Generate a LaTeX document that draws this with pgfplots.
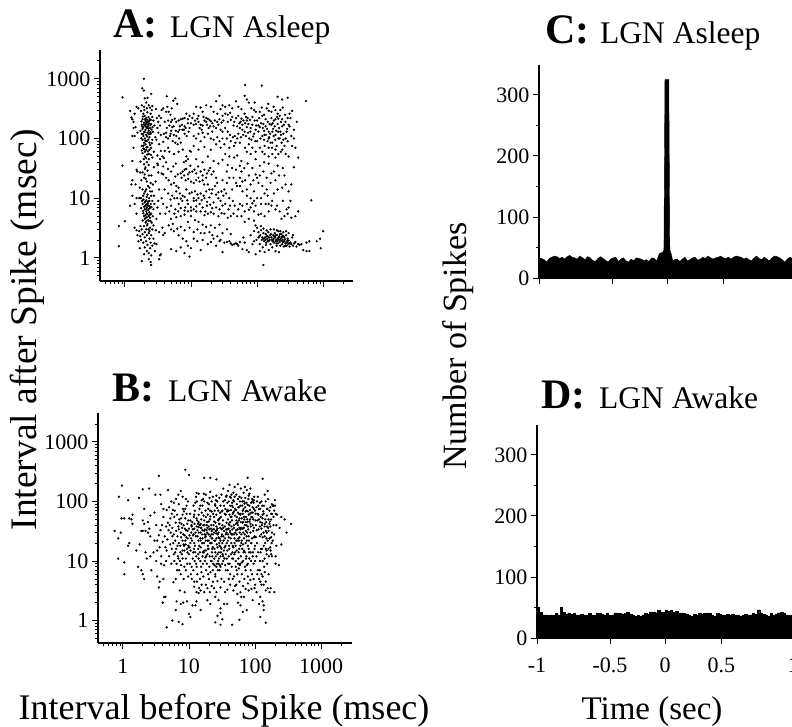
\documentclass[border=0pt]{standalone}
\usepackage{pgfplots}
\pgfplotsset{compat=1.18}
\usepackage{fontspec}
\setmainfont{Liberation Serif}
\pgfplotsset{
 base/.style={scale only axis,axis x line=bottom,axis y line=left,axis line style={-,line width=1.1pt},
  tick align=outside,major tick length=6pt,minor tick length=3.5pt,tick style={black,line width=0.9pt},
  minor tick style={line width=0.7pt},
  /pgf/number format/assume math mode=true,tick label style={font=\fontsize{22}{23}\selectfont}},
 logp/.style={base,log ticks with fixed point,
  xtick={1,10,100,1000},ytick={1,10,100,1000},yticklabels={1,10,100,1000},
  minor xtick={0.5,0.6,0.7,0.8,0.9,2,3,4,5,6,7,8,9,20,30,40,50,60,70,80,90,200,300,400,500,600,700,800,900,2000},
  minor ytick={0.5,0.6,0.7,0.8,0.9,2,3,4,5,6,7,8,9,20,30,40,50,60,70,80,90,200,300,400,500,600,700,800,900,2000},
  width=253pt,height=231pt},
 dots/.style={only marks,mark=*,mark size=0.95pt,mark options={draw=none,fill=black}},
 hist/.style={base,xmin=-1,xmax=1,ymin=0,ymax=349,ytick={0,100,200,300},minor y tick num=1,
  xtick={-1,-0.43,0,0.44,1},width=256pt,height=213pt,clip=false},
}
\begin{document}
\begin{tikzpicture}[x=1pt,y=1pt]
\useasboundingbox (0,0) rectangle (792,727);
% Panel A
\begin{loglogaxis}[logp,at={(100pt,446pt)},anchor=south west,xmin=0.42,xmax=2830,ymin=0.41,ymax=3040,xticklabels={}]
\addplot[dots] coordinates {
(0.92,490)(0.81,3.4)(0.81,1.57)(1.0,4.1)(0.92,35)(1.94,1000)(1.83,690)(1.94,635)(118,770)(66,790)(1000,2.8)(660,9.2)(550,425)(125,0.76)(2.5,0.76)
(1.2,290)(1.25,225)(1.3,210)(1.35,190)(1.4,260)(1.5,340)(1.6,320)(1.35,150)(1.45,155)(1.3,110)(1.4,110)(1.55,125)(1.35,70)(1.3,42)(1.5,30)(1.3,20)(1.25,17)(1.45,17)(1.55,28)(1.7,27)(1.3,11)(1.5,10)(1.2,7.5)(1.4,8)(1.65,10)(1.5,5.5)(1.4,3.2)(1.5,2.9)(1.55,2.4)(1.7,2.3)(1.6,1.9)
(1.75,290)(1.9,260)(2.0,240)(2.1,220)(1.85,210)(2.05,200)(2.2,190)(1.95,185)(2.3,180)(2.1,175)(1.8,170)(2.0,165)(2.25,160)(1.9,155)(2.15,150)(2.4,150)(1.85,145)(2.05,140)(2.3,135)(1.95,130)(2.2,125)(1.8,120)(2.1,115)(1.9,110)(2.0,100)(2.35,105)(1.85,95)(2.15,90)(1.95,85)(2.05,80)(1.8,75)(2.2,72)(1.9,68)(2.1,64)(2.0,60)(1.85,57)(2.3,55)(2.0,50)
(2.4,330)(2.55,300)(2.3,360)(2.6,350)(2.15,320)(1.95,340)(2.1,400)(1.8,360)(2.2,480)(2.5,560)(2.0,470)(2.45,260)(2.6,230)(2.7,200)(2.5,175)(2.8,165)(2.65,130)(2.45,120)(2.9,105)(2.6,95)(2.35,85)(2.5,70)(2.75,60)(2.3,45)(2.15,40)(2.6,48)(1.95,37)(2.05,33)(2.2,29)(1.85,27)(2.0,25)(2.3,24)(1.95,22)(2.15,19)(2.45,18)(2.65,17)(2.35,15)(2.1,14)(1.85,14)(1.95,12)(2.2,11.5)(2.5,11)(1.75,10)(1.9,9.5)(2.1,9.2)(2.35,9)
(2.0,8.5)(2.2,8.2)(1.85,8)(2.1,7.8)(2.3,7.5)(1.95,7.2)(2.15,7)(2.4,6.8)(2.0,6.5)(2.25,6.3)(2.1,6)(2.35,5.8)(1.9,5.6)(2.2,5.4)(2.05,5.2)(2.3,5)(2.15,4.8)(2.4,4.7)(2.0,4.5)(2.25,4.3)(2.1,4.1)(2.5,5.5)(2.7,6.5)(2.8,8)(2.6,9)(2.75,11)(2.55,3.9)(2.2,3.7)(1.95,3.4)(2.4,3.2)(1.8,3)(2.1,3)(2.6,3)(2.0,2.7)(2.3,2.6)(1.85,2.5)(2.15,2.4)(2.5,2.4)(2.0,2.2)(2.35,2.1)(2.7,2.1)(2.1,1.9)(1.9,1.8)(2.45,1.8)(2.8,1.75)(3,1.7)(2.2,1.65)(2.0,1.5)(2.4,1.45)(2.15,1.3)(2.3,1.2)(1.95,1.15)(2.5,1.1)(1.8,0.88)(2.3,0.95)(2.45,0.85)
(3.2,190)(3.4,165)(3.1,150)(3.6,300)(3.8,320)(4.2,280)(3.5,115)(3.2,125)(3.0,95)(3.3,80)(3.7,50)(3.1,52)(3.4,45)(3.9,47)(4.2,40)(3.6,26)(3.2,27)(3.3,14)(3.2,9)(3.6,10)(3.1,7)(3.4,5.5)(3.0,4.5)(3.7,3.2)(3.3,2.7)(4.0,2.6)(3.8,2.4)(3.4,1.1)(3.3,0.95)(3.5,1.15)
(4.4,340)(4.6,280)(4.3,510)(5.4,430)(5.8,470)(6.2,380)(5.1,320)(4.9,250)(4.5,200)(4.7,165)(5.2,155)(5.7,215)(6,190)(6.5,200)(7,210)(7.5,215)(8,220)(8.5,260)(9,180)(5,135)(5.5,115)(4.8,110)(4.5,100)(6,110)(6.4,130)(5.3,90)(5.8,85)(6.3,80)(7,85)(7.4,140)(8,120)(8.6,110)(9.2,130)(9.5,150)(6.6,100)(4.7,60)(5.5,55)(6.5,60)(7.5,65)(8.5,50)(9,45)(9.6,62)(7.8,40)(8.4,42)
(10,180)(11,170)(12,175)(13,190)(14,170)(15,165)(16,200)(17,190)(18,215)(19,205)(20,195)(21,180)(22,160)(24,150)(26,170)(28,140)(30,130)(11,110)(12,100)(13,120)(14,90)(15,125)(16,105)(18,120)(20,100)(22,95)(25,105)(27,90)(30,100)(11,260)(13,240)(15,280)(17,220)(20,340)(22,280)(25,260)(28,310)(30,240)(12,340)(14,330)(17,360)(24,420)(27,520)(30,360)
(33,260)(36,250)(39,270)(42,230)(45,190)(48,220)(52,240)(56,190)(60,170)(65,260)(68,230)(72,220)(78,205)(85,170)(90,300)(96,280)(33,150)(36,130)(39,115)(43,105)(46,110)(50,100)(55,150)(60,140)(65,130)(70,155)(76,100)(82,95)(90,120)(95,140)(33,340)(38,360)(42,320)(48,420)(52,340)(58,310)(65,520)(70,450)(75,400)(82,320)(92,400)
(100,200)(108,220)(115,180)(122,150)(128,135)(135,160)(142,145)(150,130)(158,120)(165,170)(172,180)(180,200)(190,210)(200,230)(210,215)(220,240)(230,190)(240,160)(105,130)(112,100)(120,110)(128,95)(136,115)(144,90)(152,105)(160,85)(168,70)(178,110)(188,95)(198,75)(208,130)(220,100)(235,85)(250,120)(110,280)(118,330)(128,250)(140,320)(150,290)(165,280)(178,340)(190,300)(205,260)(225,300)(245,330)(265,250)(290,220)(310,260)(240,450)(290,480)(205,500)(148,380)(340,290)(400,190)(360,140)(310,160)(280,130)(330,110)(360,100)
(120,60)(130,55)(150,50)(170,55)(190,48)(230,60)(270,55)(300,50)(340,75)(380,70)(420,48)(360,33)
(33,55)(38,50)(45,48)(50,52)(58,42)(70,60)(80,55)(95,45)(110,35)(128,40)(150,38)(180,28)(205,35)(245,32)
(3.8,25)(4.2,22)(4.6,20)(5,17)(5.5,18)(6,16)(6.5,15)(7,26)(7.5,28)(8,30)(8.5,31)(9,25)(9.5,27)(10,19)(11,18)(12,20)(13,22)(14,28)(15,24)(16,30)(17,22)(18,17)(4,14)(4.5,12)(5.2,11)(6,13)(6.8,12)(7.5,11)(8.5,14)(9.5,12)(11,10)(12.5,11.5)(14,12)(15.5,11)(17,13)(19,14)(21,14)(23,16)(26,10)(29,13)(32,14)
(3.8,8)(4.3,7)(5,7.5)(5.8,6.5)(6.5,8)(7.4,9)(8.2,7)(9,8)(10,7)(11,9)(12,6)(13.5,8)(15,7)(16.5,6)(18,5.5)(20,5.8)(22,5.5)(24,7)(27,6.5)(30,7.5)(33,8)(37,6.5)(40,5)(44,5.5)(50,5)(55,8)(60,7.5)(70,8)(80,7)(90,6)(5,4.5)(6,4.8)(7,5)(8,5.3)(9,4)(10,5)(11.5,4.3)(13,4)(15,3.6)(17,3.3)(20,3.5)(23,3.2)(27,3.6)(30,2.6)(35,3)(40,2.5)(65,4)(75,4.5)(90,4.2)(105,5.3)(115,5.5)(130,5)(150,6)(165,7.5)(200,7.5)(220,6)(260,5)(290,5.5)(330,4.7)(380,5)(420,6)(300,7)(245,9)(180,12)(205,14)(240,15)(270,17)(300,13)(330,17)(120,16)(140,14)(160,18)(70,14)(80,17)(90,13)(60,19)(50,16)(42,14)(35,18)(44,22)(55,22)(66,20)(100,22)(110,24)(100,10)(115,10)(130,12)(150,8)(135,8)
(5,3)(5.5,2.8)(6.5,2.4)(7.5,2.1)(8.5,1.9)(9,1.6)(7,1.5)(6,1.3)(5,1.4)(8,1.2)(9.5,1.05)(10,1.45)(11,2.1)(12.5,1.9)(14,1.35)(15,2)(18,1.7)(20,1.85)(22,2.1)(25,2.3)(28,2)(30,1.25)(32,1.8)(35,1.85)(40,1.75)(45,1.7)(50,1.7)(55,1.85)(60,1.4)(65,1.8)(70,1.35)(75,1.25)(85,1.7)(90,1.9)
(98,2)(105,2.2)(110,1.7)(112,2.4)(115,2.9)(118,2)(122,1.5)(125,2.6)(128,1.9)(132,2.2)(135,2.5)(138,1.8)(142,2.1)(145,2.3)(148,2.7)(150,1.9)(155,2)(158,2.4)(160,1.7)(165,2.2)(168,2)(170,1.5)(175,2.4)(178,2.1)(180,1.8)(185,2.6)(188,2.2)(190,1.9)(195,2)(198,1.6)(200,2.4)(205,2.1)(208,1.75)(210,2.8)(215,2)(218,2.3)(220,1.85)(225,1.6)(228,2.1)(232,1.95)(235,2.5)(240,1.7)(245,2)(248,1.85)(252,2.3)(255,1.55)(260,1.9)(265,2.05)(270,1.75)(275,2.4)(280,1.6)(285,1.85)(290,2.1)(295,1.7)(300,1.95)(310,1.55)(320,1.8)(330,1.7)(340,2.2)(350,1.6)(365,1.75)(380,1.85)(395,1.55)(420,1.7)(440,1.65)(470,1.7)(500,1.35)(560,1.8)(620,1.9)(800,1.9)(900,2.1)(920,1.45)(620,1.3)(560,1.3)(130,1.25)(150,1.35)(190,1.3)(215,1.25)(95,1.15)(110,1.3)
(108,2.3)(120,2.2)(126,2.1)(134,2)(140,2.3)(152,2.2)(162,2.5)(172,1.9)(182,2.3)(192,2.4)(202,1.9)(212,2.2)(222,2.5)(238,2.2)(258,2.2)(268,1.6)(288,1.95)(305,1.75)(242,2.3)(196,1.75)(176,2)(146,1.95)(136,1.65)
(1.87,233)(2.02,212)(2.17,207)(2.28,228)(1.78,193)(2.12,186)(2.33,196)(1.93,172)(2.23,171)(2.43,168)(1.83,158)(2.08,158)(2.52,141)(1.72,134)(2.27,147)(2.0,128)(2.44,127)(1.88,118)(2.17,108)(2.31,118)(1.77,101)(2.04,92)(2.26,96)(1.91,76)(2.12,71)(2.41,78)(1.97,66)(2.24,61)(1.8,63)(2.17,54)(2.36,65)(2.56,83)(1.93,45)(2.09,47)(2.48,53)(2.62,155)(2.38,210)(2.19,275)(1.97,300)(2.47,205)(3.05,220)(2.95,310)(3.3,240)
(1.72,41)(2.02,31)(2.28,36)(1.77,20)(2.07,21)(2.52,24)(2.74,33)(1.68,15)(2.24,16)(2.03,13)(2.41,13)(2.92,19)(3.15,36)(1.89,11)(2.13,10.5)(2.32,10)(2.58,13)(1.83,9)(2.04,8.9)(2.27,8.8)(2.46,8)(1.77,6.8)(2.03,7.4)(2.24,7.5)(2.38,7.2)(1.88,6.1)(2.12,6.6)(2.3,6.6)(2.53,7.1)(1.95,5)(2.14,5.6)(2.4,5.3)(2.63,5)(1.86,4.2)(2.08,4.7)(2.3,4.2)(2.45,4.1)(2.16,3.5)(2.06,3.9)(1.72,3.4)(1.65,2.8)(2.28,3)(2.7,3.5)(2.95,2.9)(2.36,2.8)(1.75,2)(2.6,1.6)(2.85,1.3)(1.68,1.45)
(3.5,220)(4,190)(4.3,150)(3.9,120)(4.2,105)(3.8,88)(4.5,70)(4.0,62)(3.5,62)(3.1,38)(3.8,34)(4.5,31)(5,28)(5.4,34)(5.9,38)(6.3,25)(5.8,23)(7.2,22)(7.9,24)(8.3,20)(9.1,21)(9.8,35)(10.5,28)(11.3,30)(12,26)(12.8,34)(13.5,19)(15,20)(15.8,17)(17.5,26)(18.5,29)(19.5,32)(20.5,25)(22,28)(24,22)(4.9,9.5)(5.6,10)(6.2,10)(7,9.8)(8,10.5)(8.8,9.2)(10.3,12.5)(11.5,13)(12,9.2)(13,10)(14.5,9.3)(16,10)(17.5,8.7)(19,10.3)(20.5,12)(22,8.5)(24,11.5)(26,12.6)(28,9)(31,11)(34,12)(38,10)(43,9)(4.1,5.5)(4.7,6)(5.6,5.5)(6.4,6)(7,6.8)(8,6.2)(9,6)(10,6.2)(11,6.5)(12,7.3)(14,6)(16,5.2)(17.5,7.5)(19.5,7.8)(21,6.8)(26,5)(29,5.6)(32,5.5)(36,4.7)(39,7.5)(46,7.5)(52,6.5)(58,5)(65,6)(75,6.4)(85,8.2)(95,7.5)
(4.6,3.5)(5.3,3.7)(6.2,3.1)(7,3.3)(8,2.9)(9.5,3.2)(11,2.7)(12.5,3)(14,2.6)(16,2.6)(19,2.7)(21,2.4)(24,1.6)(27,1.9)(38,1.9)(42,1.65)(48,1.75)(52,1.6)(62,2.2)(80,2.4)(90,2.8)(95,3.5)(100,3.2)(105,2.7)(115,3.4)(125,3.1)(140,2.9)(160,3)(180,3)(200,2.9)(225,2.8)(250,2.7)(275,2.8)(300,2.6)(350,2.4)
(120,240)(135,210)(145,190)(155,175)(165,220)(175,145)(185,160)(195,135)(205,175)(215,150)(225,130)(240,210)(255,170)(270,190)(285,145)(300,170)(320,220)(125,175)(110,155)(105,165)(130,115)(150,100)(170,130)(190,115)(210,100)(230,115)(250,95)(270,100)(290,90)(130,75)(150,70)(170,85)(190,65)(210,55)(240,65)(260,75)(100,90)(110,70)(95,60)(85,70)(75,80)(66,70)(55,85)(45,75)(38,70)(32,80)(28,70)(24,80)(20,65)(16,72)(13,65)(11,75)(10,60)(12,45)(15,40)(18,50)(22,42)(26,38)(30,44)(36,36)(42,32)(48,30)(55,35)(64,32)(72,38)(85,32)(95,25)(105,18)(125,28)(140,22)(165,26)(190,20)(215,24)(260,24)(35,28)(30,20)(25,18)(38,22)(48,18)(55,16)(60,13)(70,11)(80,10)(90,9)(115,8)(145,11)(170,9)(190,6.5)(235,4.5)(280,6.5)(320,9)(58,28)(75,24)(88,20)
(36,190)(40,205)(44,165)(50,160)(54,180)(58,215)(62,200)(66,180)(70,200)(74,175)(80,150)(85,230)(92,200)(97,165)(35,100)(40,90)(47,85)(52,120)(57,105)(62,115)(68,110)(73,125)(79,130)(87,108)(94,90)(8,160)(9,210)(9.5,240)(10.5,220)(11.5,200)(12.5,215)(13.5,150)(14.5,140)(15.5,230)(17.5,170)(18.5,150)(19.5,160)(21,130)(23,200)(25,190)(27,210)(29,185)(31,200)(6.8,160)(7.3,170)(7.8,140)(8.3,150)(5.5,160)(5.2,205)(5,190)(4.9,120)(5.9,135)(6.7,140)(4.2,125)
};
\end{loglogaxis}
% Panel B
\begin{loglogaxis}[logp,at={(98pt,84pt)},anchor=south west,width=254pt,height=230pt,xmin=0.42,xmax=2930,ymin=0.42,ymax=3060,xticklabels={1,10,100,1000},xticklabel style={yshift=-6pt}]
\addplot[dots] coordinates {
(0.75,32)(0.87,120)(0.97,185)(0.85,24)(0.93,30)(0.85,11)(1.05,9.5)(1.05,6)(0.95,52)(1.05,52)(1.2,105)(1.25,52)(1.4,60)(1.35,50)(1.25,20)(1.2,18)(1.4,42)(3.5,270)(2,160)(2.5,165)(1.75,115)(3.1,130)(3.7,130)(4.8,155)(8.8,340)(10,280)(17,250)(21,250)(26,235)(77,250)(130,240)(350,42)(300,30)(250,55)(280,50)(235,36)(250,19)(230,8.5)(205,9)(195,3)(145,0.92)(120,1.15)(4.6,0.77)(5.6,1.0)(7,0.95)(8,0.87)(25,0.93)(30,0.85)(45,0.85)(58,1.03)
(1.6,15)(1.7,8)(1.9,7)(2,6)(2.1,5)(1.8,19)(2,32)(2.2,32)(2.4,30)(2.5,35)(2.1,42)(2.4,45)(2.6,58)(2,48)(1.9,32)(2.1,75)(3,65)(3.2,40)(3.3,22)(3,22)(2.6,26)(2.2,14)(2.3,11)(2.6,12)(2.9,14)(3.2,10)(2.7,7)(3.3,5.5)(3.5,3.6)(3.6,4.5)(4.1,5)(4.2,2.5)(4.4,2.5)(4,2)(3.8,9)(4.2,8.5)(4.5,10)(4.6,15)(3.8,12)(3.6,17)(4,21)(4.3,26)(4.5,38)(4.9,33)(3.7,33)(3.8,90)(4.1,75)(4.6,72)(5,80)(5.4,100)(5.9,95)(6.4,110)(6.9,130)(7.5,150)
(5.1,40)(5.3,30)(5.6,26)(5.8,20)(5.9,13)(6.2,14)(6.5,9)(6.6,7)(7.1,7)(7.5,6)(8,15)(8.4,18)(8.8,22)(9.1,25)(9.5,32)(6.4,32)(6.9,38)(7.2,44)(7.6,52)(8,60)(8.4,68)(8.8,75)(9.2,85)(9.6,100)(6,55)(5.5,62)(6.1,70)(7,90)(8,120)(9,110)(5.8,4.4)(7.3,3.2)(8.6,3)(6.5,2.1)(7.5,1.9)(8.2,2)(9.3,2.1)(6.3,1.5)(10,1.3)(10.5,1.15)(12.5,1.8)(11.3,1.8)(15,1.5)(13,2.1)
(10,13)(10.5,20)(10.8,30)(11,38)(11.2,45)(11.5,27)(11.8,55)(12,60)(12.3,70)(12.5,95)(12.8,120)(13,140)(13.4,33)(13.7,42)(14,37)(14.3,18)(14.6,14)(15,30)(15.3,50)(15.6,65)(16,85)(16.4,110)(16.8,135)(17.2,40)(17.6,25)(18,15)(18.4,33)(18.8,45)(19.2,60)(19.6,75)(20,90)(20.5,115)(21,145)(21.5,35)(22,20)(22.5,12)(23,28)(23.5,40)(24,55)(24.5,70)(25,85)(25.5,105)(26,125)(26.5,33)(27,17)(27.5,10)(28,30)(28.5,42)(29,52)(29.5,65)
(10.3,9)(11,8)(11.6,7)(12.2,10)(12.8,9)(13.4,6)(14,11)(14.7,5)(15.3,8)(16,12)(16.7,14)(17.4,10)(18.2,7)(19,13)(19.8,16)(20.6,12)(21.4,10)(22.3,14)(23.2,9)(24.1,11)(25,6)(26,8)(27,13)(28,9)(29,7)(11,5)(12,3.7)(13,3)(14,2.9)(15,3.2)(17,3)(18,4)(20,5)(22,3.8)(24,3.5)(25,5.5)(27,4.6)(30,3.6)(19,2.2)(21,1.9)(34,1.9)(38,1.9)(30,1.6)(30,1.35)(27,1.2)(32,1.05)(25,2.5)
(30,12)(31,16)(32,20)(33,26)(34,32)(35,38)(36,28)(37,44)(38,34)(39,50)(40,25)(41,60)(42,30)(43,72)(44,38)(45,85)(46,18)(47,105)(48,28)(49,120)(50,14)(51,42)(52,33)(53,55)(54,22)(55,65)(56,11)(57,80)(58,36)(59,100)(60,18)(61,45)(62,28)(63,52)(64,16)(65,62)(66,30)(67,75)(68,24)(69,92)(70,40)(71,115)(72,20)(73,55)(74,12)(75,70)(76,30)(77,88)(78,18)(79,110)(80,26)(82,135)(84,50)(86,14)(88,65)(90,24)(92,80)(94,32)(96,105)(98,16)
(31,130)(33,165)(35,105)(37,125)(39,150)(41,190)(43,115)(45,95)(47,140)(49,175)(52,130)(55,195)(58,120)(61,165)(64,100)(67,140)(70,175)(75,155)(80,125)(85,165)(90,110)(95,95)(30,8)(33,10)(36,7)(39,9)(42,6)(45,11)(48,5.5)(51,8)(54,6)(57,7.5)(60,9)(63,6)(66,10)(69,5)(72,7)(75,8.5)(78,5.5)(82,11)(86,7)(90,6)(95,9)(34,4.5)(38,3.3)(42,4)(46,5)(50,3.8)(54,2.8)(58,4.5)(62,2.5)(66,3.8)(72,3.4)(78,4.2)(85,4.8)(92,2.2)(55,2)(60,1.8)(65,1.4)(75,1.5)(100,4)
(100,18)(103,25)(106,33)(109,48)(112,60)(115,75)(118,95)(121,14)(124,28)(127,40)(130,52)(133,68)(136,85)(139,11)(142,20)(145,32)(148,45)(151,58)(154,75)(157,110)(160,16)(165,24)(170,38)(175,50)(180,62)(185,85)(190,55)(195,70)(200,105)(205,12)(210,18)(215,60)(105,12)(110,7)(115,5)(120,4.5)(125,6)(130,10)(135,4)(140,6.5)(145,4.5)(150,13)(155,3.5)(165,3)(180,12)(110,120)(125,100)(140,130)(155,150)(180,90)(200,85)(170,80)(120,2.5)(130,2.1)(135,1.8)(105,3)(98,3.5)(115,1.9)(135,1.5)(150,15)
(30,22)(32,40)(35,24)(38,15)(40,35)(42,45)(45,34)(47,17)(50,30)(52,22)(55,40)(58,25)(60,34)(62,20)(65,35)(68,15)(70,28)(72,45)(75,22)(78,38)(80,16)(85,30)(88,20)(92,40)(96,25)(14,45)(16,33)(18,28)(20,38)(22,32)(24,46)(26,38)(28,25)(12,20)(15,22)(17,15)(19,22)(21,26)(23,17)(25,22)(27,35)(29,18)(36,60)(40,70)(44,55)(48,68)(52,48)(56,80)(60,62)(64,85)(68,55)(72,68)(76,50)(80,60)(84,72)(88,55)(92,65)(96,75)(100,70)(105,80)(110,62)(115,50)(120,45)(125,35)(130,25)(135,18)(140,42)(145,16)(150,30)(155,22)(160,50)(170,17)(175,13)(180,30)(130,60)(140,38)
(10.5,48)(12,35)(13,52)(14,60)(15,42)(16,24)(17,32)(18,55)(19,36)(20,46)(21,56)(22,68)(24,34)(26,60)(28,50)(32,70)(34,85)(38,95)(42,120)(46,80)(9.5,14)(9.8,18)(9,11)(8.5,8)(8,11)(7.6,25)(7,20)(9.4,42)(8.7,35)(8.2,28)
(10.7,24)(11.9,16)(12.7,26)(13.3,48)(13.9,22)(14.4,75)(15.2,36)(15.9,20)(16.6,58)(17.1,28)(17.8,70)(18.6,40)(19.3,18)(19.9,28)(20.8,50)(21.7,40)(22.6,24)(23.3,62)(24.3,16)(25.2,44)(25.8,29)(26.7,78)(27.7,48)(28.7,20)(29.7,36)(30.6,55)(31.6,28)(32.7,48)(33.8,15)(34.8,62)(35.7,18)(36.7,34)(37.8,68)(38.8,22)(39.8,42)(40.7,16)(41.8,32)(42.8,55)(43.8,20)(44.8,48)(45.7,28)(46.8,65)(47.8,40)(48.8,24)(49.7,58)(50.8,18)(51.8,72)(52.8,28)(53.8,44)(54.8,34)(55.8,24)(56.8,48)(57.8,16)(58.8,30)(59.8,60)(61.3,36)(62.7,22)(64.5,44)(65.8,19)(67.3,36)(68.8,50)(70.6,14)(72.5,32)(74.5,26)(76.5,45)(78.6,34)(81,22)(83,62)(85.5,42)(87.5,20)(90.5,54)(93,14)(95.5,36)(99,26)(102,48)(107,20)(113,34)(118,26)(123,16)(128,44)(134,30)(143,50)(149,24)(158,36)(168,46)(178,20)
(6.7,18)(7.4,14)(7.9,36)(8.3,19)(9.3,16)(10.2,17)(11.4,11)(12.4,14)(13.1,8)(13.8,13)(14.9,10)(15.5,6.5)(16.3,9)(17.7,11.5)(18.7,9)(19.5,6)(20.3,8)(21.2,6.5)(22,10)(23,7)(24.5,8.5)(25.6,12)(26.4,9)(27.3,7)(28.3,11)(29.4,8.5)(30.5,14)(31.7,9)(32.8,12)(34.3,11)(35.3,8.5)(37.3,11)(38.6,7)(40,12)(41.3,9)(43.4,13)(44.3,8)(46.4,11)(48.7,13)(50.7,10)(52.7,7)(55.4,9)(56.5,14)(58.6,8.5)(61,12)(63.6,9.5)(67,14)(70,8)(73,11)(78,9)(81,14)(87,10)(92,12)(100,10)(111,14)(118,10)(128,16)(137,8)(152,9)(162,12)(172,15)(6.3,5)(6.9,11)(7.6,8.5)(8.3,5)(9,7)(9.7,5.5)(10.7,6)(12,4.5)(13.2,4.5)(14.2,3.5)(15.5,4)(16.5,5.5)(19,3.5)(20.7,3)(23,4.5)(26,3)(28,2.2)(31,5)(35,3)(40,5)(47,3.2)(52,4)(60,3)(68,2.5)(80,3.2)(88,3.4)(95,5)(108,6)(118,7)(125,4)(130,5.5)(145,3.2)(160,6)(172,3.5)
(11.7,85)(13.2,100)(14,135)(14.8,85)(15.5,105)(17,100)(18,130)(19,95)(20.8,70)(22,100)(23,120)(24.8,90)(26.8,100)(27.7,70)(28.8,115)(30,85)(31.5,68)(33,100)(35.5,75)(36.5,120)(38,72)(40,100)(42,85)(44,130)(46,62)(48,100)(50,75)(53,90)(55,110)(57,62)(60,85)(62,115)(65,70)(68,100)(71,80)(74,95)(78,68)(82,85)(87,95)(91,100)(97,120)(102,62)(107,100)(112,85)(120,75)(128,85)(135,62)(145,100)(152,75)(165,70)(175,62)(190,85)(205,62)(210,40)(190,40)(195,28)(185,22)(175,25)(165,42)(160,32)(152,38)(140,26)(118,38)(122,55)(103,40)(94,50)(86,38)(82,46)(74,40)(66,45)(58,52)(54,44)(48,36)(44,28)(41,40)(37,30)(33,36)(31,26)(29,42)(26,24)(24,30)(22,24)(20,22)(18,22)(17,48)
(3.3,15)(3.5,27)(3.9,40)(4.1,55)(4.4,17)(4.7,23)(4.8,44)(5,12)(5.2,19)(5.2,52)(5.4,9)(5.5,16)(5.6,36)(5.7,72)(5.9,28)(6,10)(6.2,22)(6.3,44)(6.4,16)(6.6,60)(6.7,26)(6.8,12)(7,34)(7.1,50)(7.3,10)(7.4,18)(7.5,30)(7.7,42)(7.8,13)(8,22)(8.1,75)(8.3,40)(8.5,15)(8.6,27)(8.8,52)(8.9,19)(9,33)(9.2,62)(9.4,9)(9.6,24)(9.7,48)(9.9,17)(10,35)(10.2,27)(10.4,62)(10.6,15)(10.9,40)(11.1,22)(11.4,34)(11.6,14)(11.8,28)(12.1,42)(12.3,18)(12.6,30)(12.9,12)(13.1,38)(13.5,26)(13.8,16)(14.1,30)(14.5,40)(14.8,24)(15.1,17)(15.4,36)(15.8,28)(16.2,14)(16.5,40)(16.9,20)(17.4,34)(17.9,26)(18.2,12)(18.9,30)(19.4,16)(20.2,34)(21,20)(21.8,28)(22.4,16)(23.2,34)(24.2,22)(25,14)(25.5,32)(26.3,19)(27.2,28)(28.2,14)(29.2,24)(30.3,17)(31.3,34)(32.3,13)(33.4,22)(34.5,17)(36,13)(37.2,20)(39,28)(40.5,18)(43,24)(45.5,14)(49,20)(53,15)(57,22)
};
\end{loglogaxis}
% Panel C
\begin{axis}[hist,at={(539pt,449pt)},anchor=south west,xticklabels={}]
\addplot[sharp plot,fill=black,draw=black,line width=0.4pt] coordinates {
(-1,33)(-0.98,32)(-0.96,30)(-0.94,26)(-0.92,32)(-0.9,34)(-0.88,36)(-0.86,35)(-0.84,32)(-0.82,34)(-0.8,31)(-0.78,35)(-0.76,37)(-0.74,34)(-0.72,33)(-0.7,31)(-0.68,36)(-0.66,33)(-0.64,30)(-0.62,35)(-0.6,33)(-0.58,29)(-0.56,27)(-0.54,32)(-0.52,35)(-0.5,32)(-0.48,29)(-0.46,26)(-0.44,31)(-0.42,33)(-0.4,34)(-0.38,27)(-0.36,31)(-0.34,33)(-0.32,28)(-0.3,26)(-0.28,31)(-0.26,28)(-0.24,33)(-0.22,32)(-0.2,31)(-0.18,28)(-0.16,30)(-0.14,27)(-0.12,33)(-0.1,32)(-0.08,28)(-0.06,40)(-0.035,42)(-0.024,46)(-0.016,325)(0.014,325)(0.022,46)(0.032,40)(0.045,28)(0.06,30)(0.08,31)(0.1,27)(0.12,31)(0.14,34)(0.16,28)(0.18,30)(0.2,33)(0.22,34)(0.24,29)(0.26,31)(0.28,34)(0.3,32)(0.32,36)(0.34,33)(0.36,31)(0.38,33)(0.4,34)(0.42,36)(0.44,33)(0.46,32)(0.48,34)(0.5,31)(0.52,34)(0.54,36)(0.56,35)(0.58,34)(0.6,31)(0.62,33)(0.64,30)(0.66,28)(0.68,33)(0.7,36)(0.72,32)(0.74,30)(0.76,34)(0.78,31)(0.8,28)(0.82,33)(0.84,36)(0.86,35)(0.88,33)(0.9,30)(0.92,26)(0.94,31)(0.96,34)(0.98,32)(1,32)
} \closedcycle;
\end{axis}
% Panel D
\begin{axis}[hist,at={(537pt,89pt)},anchor=south west,xticklabels={-1,-0.5,0,0.5,1},xticklabel style={yshift=-10pt}]
\addplot[const plot,fill=black,draw=black,line width=0.4pt] coordinates {
(-1,50)(-0.98,42)(-0.96,37)(-0.94,38)(-0.92,37)(-0.9,38)(-0.88,37)(-0.86,40)(-0.84,38)(-0.82,50)(-0.8,42)(-0.78,39)(-0.76,41)(-0.74,39)(-0.72,40)(-0.7,38)(-0.68,37)(-0.66,39)(-0.64,37)(-0.62,38)(-0.6,40)(-0.58,38)(-0.56,37)(-0.54,41)(-0.52,40)(-0.5,39)(-0.48,38)(-0.46,40)(-0.44,37)(-0.42,38)(-0.4,41)(-0.38,40)(-0.36,40)(-0.34,39)(-0.32,40)(-0.3,43)(-0.28,39)(-0.26,37)(-0.24,36)(-0.22,38)(-0.2,36)(-0.18,38)(-0.16,40)(-0.14,39)(-0.12,42)(-0.1,43)(-0.08,41)(-0.06,45)(-0.04,43)(-0.02,42)(0,46)(0.02,44)(0.04,45)(0.06,42)(0.08,44)(0.1,40)(0.12,41)(0.14,40)(0.16,39)(0.18,37)(0.2,36)(0.22,39)(0.24,38)(0.26,41)(0.28,39)(0.3,40)(0.32,41)(0.34,40)(0.36,37)(0.38,36)(0.4,40)(0.42,39)(0.44,38)(0.46,37)(0.48,39)(0.5,37)(0.52,39)(0.54,37)(0.56,38)(0.58,36)(0.6,37)(0.62,39)(0.64,37)(0.66,38)(0.68,40)(0.7,39)(0.72,46)(0.74,41)(0.76,39)(0.78,38)(0.8,36)(0.82,40)(0.84,37)(0.86,39)(0.88,41)(0.9,42)(0.92,40)(0.94,38)(0.96,37)(0.98,38)(1,38)
} \closedcycle;
\end{axis}
% Titles
\node[anchor=base west,font=\fontsize{42}{44}\selectfont\bfseries,inner sep=0] at (113,689) {A:};
\node[anchor=base west,font=\fontsize{31.5}{33}\selectfont,inner sep=0] at (170,689) {LGN Asleep};
\node[anchor=base west,font=\fontsize{42}{44}\selectfont\bfseries,inner sep=0] at (112,325) {B:};
\node[anchor=base west,font=\fontsize{31.5}{33}\selectfont,inner sep=0] at (168,325) {LGN Awake};
\node[anchor=base west,font=\fontsize{42}{44}\selectfont\bfseries,inner sep=0] at (545,683) {C:};
\node[anchor=base west,font=\fontsize{31.5}{33}\selectfont,inner sep=0] at (600,683) {LGN Asleep};
\node[anchor=base west,font=\fontsize{42}{44}\selectfont\bfseries,inner sep=0] at (541,318) {D:};
\node[anchor=base west,font=\fontsize{31.5}{33}\selectfont,inner sep=0] at (599,318) {LGN Awake};
% Axis labels
\node[rotate=90,font=\fontsize{37.5}{39}\selectfont,inner sep=0] at (27,397) {Interval after Spike (msec)};
\node[rotate=90,font=\fontsize{34}{36}\selectfont,inner sep=0] at (458,381) {Number of Spikes};
\node[anchor=base,font=\fontsize{36}{38}\selectfont,inner sep=0] at (224,7.5) {Interval before Spike (msec)};
\node[anchor=base,font=\fontsize{33}{35}\selectfont,inner sep=0] at (652,7.5) {Time (sec)};
\end{tikzpicture}
\end{document}
